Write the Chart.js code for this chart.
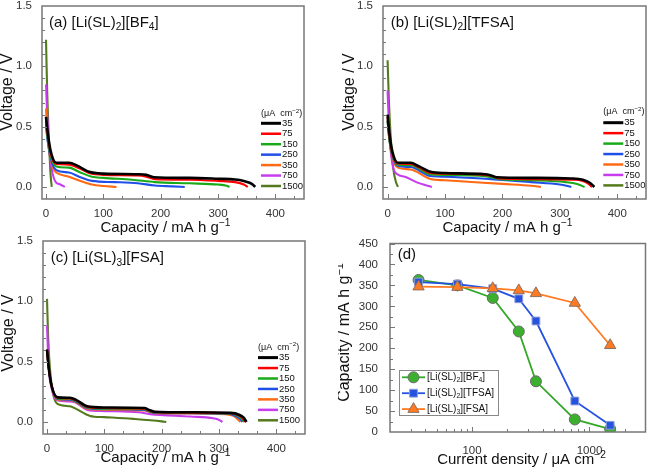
<!DOCTYPE html>
<html>
<head>
<meta charset="utf-8">
<script src="https://cdn.jsdelivr.net/npm/chart.js@4.4.0/dist/chart.umd.min.js"></script>
<style>
  body { margin: 0; background: #fff; width: 653px; height: 472px; position: relative; overflow: hidden; }
  canvas { position: absolute; }
</style>
</head>
<body>
<canvas id="chartA" width="326" height="236" style="left:0;top:0"></canvas>
<canvas id="chartB" width="315" height="236" style="left:338px;top:0"></canvas>
<canvas id="chartC" width="326" height="236" style="left:0;top:236px"></canvas>
<canvas id="chartD" width="315" height="236" style="left:338px;top:236px"></canvas>
<script>
const FONT = '"Liberation Sans", Arial, sans-serif';

// current densities, µA cm-2
const densities = ['35', '75', '150', '250', '350', '750', '1500'];
const densityValues = [35, 75, 150, 250, 350, 750, 1500];
const lineColors = ['#000000', '#ff0000', '#19a919', '#1f4fe6', '#ff6a13', '#c83cf0', '#557a1e'];

// tick labels
const capTicks = [0, 100, 200, 300, 400];
const voltTicks = [0, 0.5, 1.0, 1.5];
const rateTicks = [100, 1000];
const capRateTicks = [0, 50, 100, 150, 200, 250, 300, 350, 400, 450];

// (a) [Li(SL)2][BF4] : capacity (mA h/g) and voltage (V), one row per current density
const capBF4 = [
  [0, 3, 8, 18, 40, 55, 75, 100, 160, 175, 188, 250, 300, 330, 345, 355, 362, 365],
  [0, 3, 8, 18, 40, 60, 75, 100, 160, 175, 190, 250, 300, 330, 345, 352],
  [0, 3, 8, 18, 40, 60, 80, 100, 150, 190, 250, 300, 315, 320],
  [0, 3, 8, 18, 40, 60, 80, 120, 160, 190, 220, 242],
  [0, 2, 6, 12, 18, 40, 60, 80, 100, 123],
  [0, 3, 7, 12, 17, 25, 33],
  [0, 2, 5, 8, 10]
];
const voltBF4 = [
  [0.58, 0.45, 0.3, 0.2, 0.2, 0.175, 0.125, 0.11, 0.105, 0.1, 0.08, 0.075, 0.068, 0.062, 0.05, 0.035, 0.015, 0],
  [0.55, 0.43, 0.28, 0.19, 0.185, 0.15, 0.115, 0.1, 0.095, 0.085, 0.065, 0.06, 0.05, 0.04, 0.02, 0],
  [0.52, 0.4, 0.26, 0.17, 0.16, 0.12, 0.085, 0.075, 0.06, 0.04, 0.03, 0.02, 0.01, 0],
  [0.5, 0.38, 0.24, 0.14, 0.12, 0.08, 0.05, 0.04, 0.03, 0.012, 0.005, 0],
  [0.65, 0.45, 0.28, 0.16, 0.12, 0.085, 0.05, 0.02, 0.008, 0],
  [0.85, 0.5, 0.25, 0.1, 0.04, 0.02, 0],
  [1.22, 0.8, 0.4, 0.1, 0]
];

// (b) [Li(SL)2][TFSA]
const capTFSA = [
  [0, 3, 8, 18, 40, 55, 75, 100, 170, 180, 190, 250, 320, 340, 352, 360],
  [0, 3, 8, 18, 40, 55, 75, 100, 170, 185, 195, 250, 320, 340, 350, 356],
  [0, 3, 8, 18, 40, 75, 100, 170, 195, 250, 310, 330, 343],
  [0, 3, 8, 18, 40, 75, 100, 180, 250, 300, 320],
  [0, 3, 8, 18, 40, 75, 100, 200, 250, 267],
  [0, 3, 8, 17, 30, 50, 77],
  [0, 2, 5, 10, 14, 18]
];
const voltTFSA = [
  [0.6, 0.45, 0.3, 0.2, 0.2, 0.17, 0.125, 0.115, 0.105, 0.095, 0.08, 0.075, 0.07, 0.06, 0.035, 0],
  [0.58, 0.43, 0.28, 0.195, 0.19, 0.16, 0.115, 0.11, 0.1, 0.085, 0.07, 0.065, 0.06, 0.05, 0.025, 0],
  [0.55, 0.4, 0.27, 0.185, 0.18, 0.105, 0.1, 0.09, 0.065, 0.055, 0.04, 0.025, 0],
  [0.55, 0.4, 0.26, 0.175, 0.165, 0.09, 0.085, 0.065, 0.04, 0.02, 0],
  [0.55, 0.4, 0.25, 0.16, 0.145, 0.065, 0.055, 0.025, 0.01, 0],
  [0.8, 0.45, 0.2, 0.105, 0.085, 0.04, 0],
  [1.05, 0.75, 0.45, 0.15, 0.05, 0]
];

// (c) [Li(SL)3][FSA]
const capFSA = [
  [0, 3, 8, 18, 40, 50, 70, 100, 170, 178, 188, 250, 320, 335, 343, 348],
  [0, 3, 8, 18, 40, 50, 70, 100, 170, 178, 188, 250, 318, 333, 341, 346],
  [0, 3, 8, 18, 40, 50, 70, 100, 170, 178, 188, 250, 316, 331, 339, 344],
  [0, 3, 8, 18, 40, 50, 70, 100, 170, 178, 188, 250, 313, 328, 336, 341],
  [0, 3, 8, 18, 40, 50, 70, 100, 170, 178, 188, 250, 310, 325, 332, 337],
  [0, 3, 8, 18, 40, 50, 70, 100, 160, 180, 250, 290, 301, 306],
  [0, 2, 5, 10, 18, 40, 50, 75, 100, 150, 200, 208]
];
const voltFSA = [
  [0.6, 0.45, 0.3, 0.205, 0.2, 0.185, 0.13, 0.12, 0.115, 0.1, 0.085, 0.08, 0.075, 0.06, 0.035, 0],
  [0.6, 0.45, 0.3, 0.2, 0.195, 0.18, 0.125, 0.115, 0.11, 0.095, 0.08, 0.077, 0.072, 0.058, 0.033, 0],
  [0.6, 0.45, 0.3, 0.195, 0.19, 0.175, 0.12, 0.11, 0.105, 0.09, 0.078, 0.075, 0.07, 0.055, 0.03, 0],
  [0.6, 0.45, 0.3, 0.19, 0.185, 0.17, 0.115, 0.105, 0.1, 0.088, 0.075, 0.072, 0.068, 0.052, 0.028, 0],
  [0.6, 0.45, 0.3, 0.185, 0.18, 0.165, 0.11, 0.1, 0.095, 0.085, 0.072, 0.07, 0.065, 0.05, 0.025, 0],
  [0.8, 0.45, 0.28, 0.18, 0.17, 0.16, 0.1, 0.09, 0.08, 0.065, 0.045, 0.03, 0.015, 0],
  [1.02, 0.7, 0.45, 0.25, 0.15, 0.13, 0.11, 0.05, 0.04, 0.025, 0.005, 0]
];

// (d) discharge capacity (mA h/g) vs current density
const rateBF4 = [363, 350, 320, 240, 121, 30, 7];
const rateTFSA = [358, 353, 342, 318, 265, 74, 16];
const rateFSA = [347, 346, 343, 338, 331, 308, 207];

function font(size) { return size + 'px ' + FONT; }

// draw text made of parts: [text, shift] where shift 1 = superscript, -1 = subscript
function rich(ctx, parts, x, y, size, align, rot) {
  ctx.save();
  ctx.translate(x, y);
  if (rot) ctx.rotate(rot);
  ctx.textBaseline = 'middle';
  ctx.textAlign = 'left';
  let w = 0;
  parts.forEach(p => { ctx.font = font(p[1] ? size * 0.68 : size); w += ctx.measureText(p[0]).width; });
  let cx = align === 'center' ? -w / 2 : 0;
  parts.forEach(p => {
    const fs = p[1] ? size * 0.68 : size;
    ctx.font = font(fs);
    const dy = p[1] === 1 ? -size * 0.32 : p[1] === -1 ? size * 0.3 : 0;
    ctx.fillText(p[0], cx, dy);
    cx += ctx.measureText(p[0]).width;
  });
  ctx.restore();
}

function range(a, b, step) {
  const out = [];
  for (let v = a; v <= b + 1e-9; v += step) out.push(Math.round(v * 1000) / 1000);
  return out;
}

function decoPlugin(cfg) {
  return {
    id: 'deco',
    afterDraw(chart) {
      const ctx = chart.ctx, a = chart.chartArea;
      const xs = chart.scales.x, ys = chart.scales.y;
      ctx.save();
      ctx.strokeStyle = '#777';
      ctx.lineWidth = 1;
      ctx.beginPath();
      const xt = (v, len) => {
        const p = Math.round(xs.getPixelForValue(v)) + 0.5;
        if (p < a.left + 1 || p > a.right - 1) return;
        ctx.moveTo(p, a.bottom); ctx.lineTo(p, a.bottom - len);
      };
      const yt = (v, len) => {
        const p = Math.round(ys.getPixelForValue(v)) + 0.5;
        if (p < a.top + 1 || p > a.bottom - 1) return;
        ctx.moveTo(a.left, p); ctx.lineTo(a.left + len, p);
      };
      cfg.xMajor.forEach(v => xt(v, 5));
      cfg.xMinor.forEach(v => xt(v, 3));
      cfg.yMajor.forEach(v => yt(v, 5));
      cfg.yMinor.forEach(v => yt(v, 3));
      ctx.stroke();
      ctx.lineWidth = 1.5;
      ctx.strokeRect(a.left, a.top, a.right - a.left, a.bottom - a.top);

      ctx.fillStyle = '#111';
      rich(ctx, cfg.label, cfg.labelPos[0], cfg.labelPos[1], 15, 'left');
      rich(ctx, cfg.xTitle, cfg.xTitlePos[0], cfg.xTitlePos[1], 15, 'center');
      rich(ctx, cfg.yTitle, cfg.yTitlePos[0], cfg.yTitlePos[1], 16, 'center', -Math.PI / 2);
      cfg.legend(ctx);
      ctx.restore();
    }
  };
}

function curveLegend(x0, headerY, rowY) {
  return ctx => {
    ctx.fillStyle = '#111';
    rich(ctx, [['(\u03bcA  cm', 0], ['\u22122', 1], [')', 0]], x0, headerY, 9, 'left');
    densities.forEach((d, i) => {
      const y = rowY + i * 10.45;
      ctx.strokeStyle = lineColors[i];
      ctx.lineWidth = i === 0 ? 3 : 2.5;
      ctx.beginPath();
      ctx.moveTo(x0, y); ctx.lineTo(x0 + 20, y);
      ctx.stroke();
      rich(ctx, [[d, 0]], x0 + 21, y, 9.5, 'left');
    });
  };
}

const capTitle = [['Capacity / mA h g', 0], ['\u22121', 1]];

function curveChart(id, caps, volts, xMin, lay, label, legend) {
  const datasets = densities.map((d, i) => ({
    label: d,
    data: caps[i].map((c, j) => ({ x: c, y: volts[i][j] })),
    borderColor: lineColors[i],
    borderWidth: i === 0 ? 2.6 : 2.1,
    pointRadius: 0,
    cubicInterpolationMode: 'monotone',
    fill: false
  }));
  return new Chart(document.getElementById(id), {
    type: 'line',
    data: { datasets },
    options: {
      responsive: false,
      animation: false,
      layout: { padding: lay.pad },
      plugins: { legend: { display: false }, tooltip: { enabled: false } },
      scales: {
        x: {
          type: 'linear', min: xMin, max: 450,
          grid: { display: false }, border: { display: false },
          afterBuildTicks: s => { s.ticks = capTicks.map(v => ({ value: v })); },
          afterFit: s => { s.height = lay.xh; s.paddingLeft = 0; s.paddingRight = 0; },
          ticks: { font: { family: FONT, size: 11.5, lineHeight: 1 }, color: '#333', padding: 1, maxRotation: 0, autoSkip: false }
        },
        y: {
          min: -0.1, max: 1.5,
          grid: { display: false }, border: { display: false },
          afterBuildTicks: s => { s.ticks = voltTicks.map(v => ({ value: v })); },
          afterFit: s => { s.width = lay.yw; s.paddingTop = 0; s.paddingBottom = 0; },
          ticks: { font: { family: FONT, size: 11.5, lineHeight: 1 }, color: '#333', padding: 2, callback: v => Number(v).toFixed(1) }
        }
      }
    },
    plugins: [decoPlugin({
      xMajor: capTicks, xMinor: range(100 / 3, 450, 100 / 3),
      yMajor: voltTicks, yMinor: range(-0.1, 1.5, 0.1),
      label, labelPos: lay.labelPos,
      xTitle: capTitle, xTitlePos: lay.xTitlePos,
      yTitle: [['Voltage / V', 0]], yTitlePos: lay.yTitlePos,
      legend
    })]
  });
}

curveChart('chartA', capBF4, voltBF4, -7, {
  pad: { top: 6, right: 22, left: 0, bottom: 0 }, yw: 42, xh: 37,
  labelPos: [49, 22.7], xTitlePos: [165.5, 228], yTitlePos: [8, 92]
}, [['(a) [Li(SL)', 0], ['2', -1], ['][BF', 0], ['4', -1], [']', 0]], curveLegend(261, 114, 123.3));

curveChart('chartB', capTFSA, voltTFSA, -8, {
  pad: { top: 6, right: 7, left: 0, bottom: 0 }, yw: 45, xh: 37,
  labelPos: [52.7, 23], xTitlePos: [169.5, 228], yTitlePos: [12, 92]
}, [['(b) [Li(SL)', 0], ['2', -1], ['][TFSA]', 0]], curveLegend(265.3, 111.7, 122.7));

curveChart('chartC', capFSA, voltFSA, -7, {
  pad: { top: 5, right: 21, left: 0, bottom: 0 }, yw: 43, xh: 38,
  labelPos: [50.7, 22.3], xTitlePos: [165.5, 222.3], yTitlePos: [9, 97]
}, [['(c) [Li(SL)', 0], ['3', -1], ['][FSA]', 0]], curveLegend(258, 111.3, 121.6));

// (d) rate capability
const rateSeries = [
  { name: [['[Li(SL)', 0], ['2', -1], ['][BF', 0], ['4', -1], [']', 0]], data: rateBF4, color: '#35a82a', fill: '#3cb02e', edge: '#6a6a6a', style: 'circle', r: 5.5, order: 3 },
  { name: [['[Li(SL)', 0], ['2', -1], ['][TFSA]', 0]], data: rateTFSA, color: '#2553e0', fill: '#2553e0', edge: '#8c9bd8', style: 'rect', r: 5.5, order: 2 },
  { name: [['[Li(SL)', 0], ['3', -1], ['][FSA]', 0]], data: rateFSA, color: '#ff7a22', fill: '#ff7a22', edge: '#8a7060', style: 'triangle', r: 6.5, order: 1 }
];

function rateLegend(ctx) {
  ctx.strokeStyle = '#888';
  ctx.lineWidth = 1;
  ctx.strokeRect(61.5, 134.5, 99, 45);
  rateSeries.forEach((s, i) => {
    const y = 141.3 + i * 15.9;
    ctx.strokeStyle = s.color;
    ctx.lineWidth = 1.8;
    ctx.beginPath();
    ctx.moveTo(64, y); ctx.lineTo(87, y);
    ctx.stroke();
    ctx.fillStyle = s.fill;
    ctx.strokeStyle = s.edge;
    ctx.lineWidth = 1;
    Chart.helpers.drawPoint(ctx, { pointStyle: s.style, radius: s.r, borderWidth: 1, rotation: 0 }, 75.5, y);
    ctx.fillStyle = '#111';
    rich(ctx, s.name, 89, y, 10, 'left');
  });
}

const minorLog = [20, 30, 40, 50, 60, 70, 80, 90, 200, 300, 400, 500, 600, 700, 800, 900, 2000, 3000];

new Chart(document.getElementById('chartD'), {
  type: 'line',
  data: {
    datasets: rateSeries.map(s => ({
      data: densityValues.map((x, j) => ({ x, y: s.data[j] })),
      borderColor: s.color,
      borderWidth: 1.8,
      pointStyle: s.style,
      pointRadius: s.r,
      pointBackgroundColor: s.fill,
      pointBorderColor: s.edge,
      pointBorderWidth: 1,
      tension: 0,
      order: s.order
    }))
  },
  options: {
    responsive: false,
    animation: false,
    layout: { padding: { top: 4, right: 5, left: 0, bottom: 0 } },
    plugins: { legend: { display: false }, tooltip: { enabled: false } },
    scales: {
      x: {
        type: 'logarithmic', min: 20, max: 3000,
        grid: { display: false }, border: { display: false },
        afterBuildTicks: s => { s.ticks = rateTicks.map(v => ({ value: v })); },
        afterFit: s => { s.height = 40; s.paddingLeft = 0; s.paddingRight = 0; },
        ticks: { font: { family: FONT, size: 11.5, lineHeight: 1 }, color: '#333', padding: 5, maxRotation: 0, autoSkip: false, callback: v => String(v) }
      },
      y: {
        min: 0, max: 450,
        grid: { display: false }, border: { display: false },
        afterBuildTicks: s => { s.ticks = capRateTicks.map(v => ({ value: v })); },
        afterFit: s => { s.width = 52; s.paddingTop = 0; s.paddingBottom = 0; },
        ticks: { font: { family: FONT, size: 11.5, lineHeight: 1 }, color: '#333', padding: 4 }
      }
    }
  },
  plugins: [decoPlugin({
    xMajor: rateTicks, xMinor: minorLog,
    yMajor: capRateTicks, yMinor: range(25, 425, 50),
    label: [['(d)', 0]], labelPos: [59.7, 19],
    xTitle: [['Current density / \u03bcA cm', 0], ['\u22122', 1]], xTitlePos: [183.5, 224],
    yTitle: capTitle, yTitlePos: [7, 96.5],
    legend: rateLegend
  })]
});
</script>
</body>
</html>
